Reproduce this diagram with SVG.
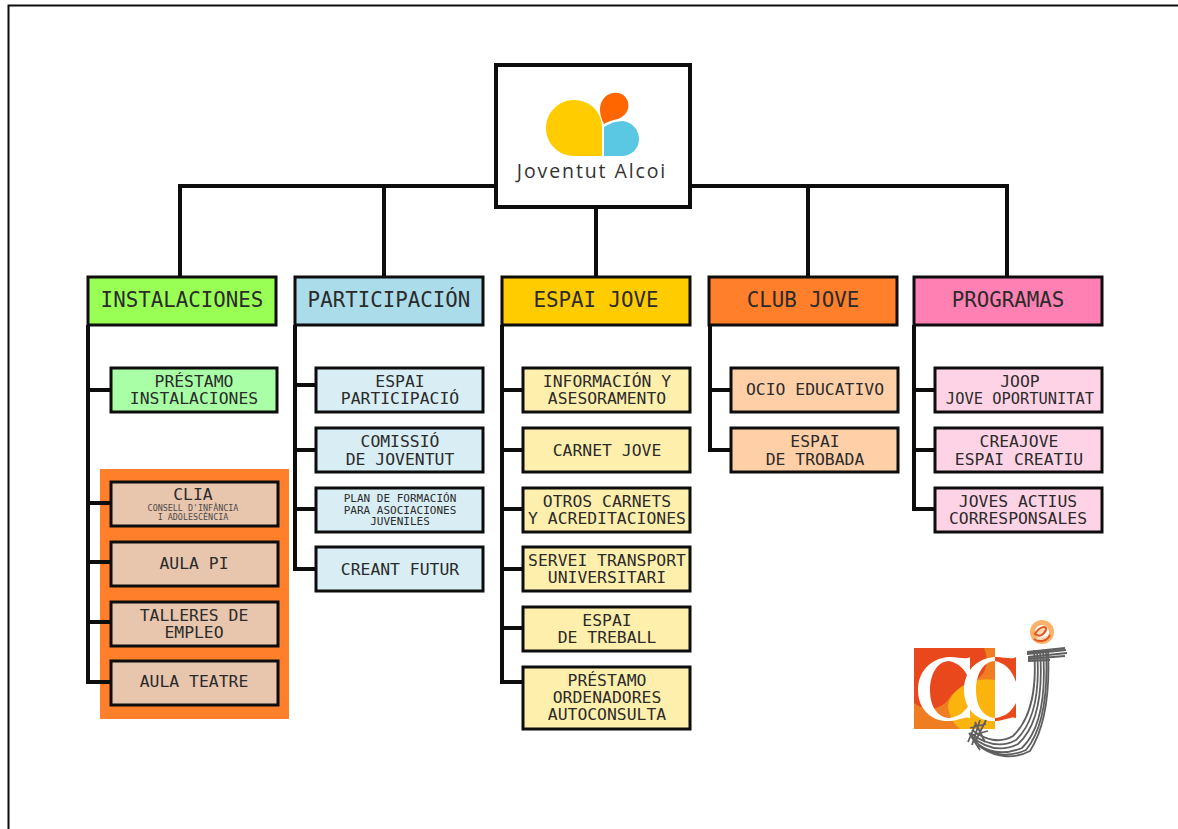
<svg xmlns="http://www.w3.org/2000/svg" width="1178" height="829" viewBox="0 0 1178 829">
<style>
.n{stroke:#0d0d0d;stroke-width:3}
.h{stroke:#0d0d0d;stroke-width:3}
.c{fill:none;stroke:#0d0d0d;stroke-width:4;stroke-linejoin:miter}
text{font-family:"DejaVu Sans Mono","Liberation Mono",monospace;fill:#2b2b2b;text-anchor:middle}
.t{font-size:20.8px}
.s{font-size:16.4px}
.s2{font-size:15.4px}
.xs{font-size:11px}
.xxs{font-size:8.4px;fill:#4a4a4a}
.g{fill:#a9ffa6}.p{fill:#d8edf4}.y{fill:#ffefac}.o{fill:#ffcfa8}.k{fill:#ffd3e6}.b{fill:#e8c5ad}
.st{fill:none;stroke:#5f5f5f;stroke-width:1.8}
</style>
<defs>
<path id="bigC" d="M1016 657V682C1012 670 1005 663 995 661C983 661 976 675 976 690C976 706 983 717 995 718C1005 717 1012 711 1016 703V718C1012 716 1006 720 996 721C976 722 964 708 964 690C964 672 976 658 996 657C1005 657 1012 660 1016 657Z"/>
<clipPath id="inSq"><rect x="914" y="648" width="81" height="81"/></clipPath>
<clipPath id="outSq"><rect x="995" y="640" width="30" height="90"/></clipPath>
</defs>
<rect width="1178" height="829" fill="#fff"/>
<path d="M8.5 829V5.5H1178" fill="none" stroke="#0d0d0d" stroke-width="2"/>
<g id="orange-panel"><rect x="100" y="469" width="189" height="250" fill="#ff7f2a"/></g>
<g id="connectors">
<path class="c" d="M496 186H180V277M384 186V277M596 207V277M690 186H1007V277M808 186V277"/>
<path class="c" d="M88 325V682H111M88 390H111M88 503H111M88 562H111M88 622H111"/>
<path class="c" d="M295 325V569H316M295 385H316M295 450H316M295 509H316"/>
<path class="c" d="M502 325V682H523M502 390H523M502 450H523M502 509H523M502 569H523M502 628H523"/>
<path class="c" d="M710 325V450H731M710 390H731"/>
<path class="c" d="M914 325V509H935M914 390H935M914 450H935"/>
</g>
<g id="root">
<rect x="496" y="65" width="194" height="142" fill="#fff" stroke="#0d0d0d" stroke-width="4"/>
<path d="M602 156V128C602 112 590 100 574 100C558 100 546 113 546 128C546 144 559 156 574 156Z" fill="#ffcc00"/>
<path d="M604 124C598 112 599 103 605 97C613 90 625 92 628 102C630 110 625 116 618 119C612 120 607 122 604 124Z" fill="#ff6600"/>
<path d="M604 156V127C610 123 616 121 623 121C632 122 639 130 639 139C639 149 631 156 622 156Z" fill="#5bc8e3"/>
<text x="592" y="178" style="font-family:'Open Sans','DejaVu Sans',sans-serif;font-size:19.5px;letter-spacing:1.9px;fill:#333">Joventut Alcoi</text>
</g>
<g id="instalaciones"><rect class="h" x="88" y="277" width="188" height="48" fill="#99ff55"/><text class="t" x="182" y="307">INSTALACIONES</text></g>
<g id="participacion"><rect class="h" x="295" y="277" width="188" height="48" fill="#aadcea"/><text class="t" x="389" y="307">PARTICIPACIÓN</text></g>
<g id="espai-jove"><rect class="h" x="502" y="277" width="188" height="48" fill="#ffcc00"/><text class="t" x="596" y="307">ESPAI JOVE</text></g>
<g id="club-jove"><rect class="h" x="709" y="277" width="188" height="48" fill="#ff7f2a"/><text class="t" x="803" y="307">CLUB JOVE</text></g>
<g id="programas"><rect class="h" x="914" y="277" width="188" height="48" fill="#ff80b2"/><text class="t" x="1008" y="307">PROGRAMAS</text></g>

<g id="prestamo-inst"><rect class="n g" x="111" y="368" width="166" height="44"/><text class="s" x="194" y="387">PRÉSTAMO</text><text class="s" x="194" y="404">INSTALACIONES</text></g>
<g id="clia"><rect class="n b" x="111" y="482" width="167" height="44"/><text class="s" x="193" y="500">CLIA</text><text class="xxs" x="193" y="510.5">CONSELL D'INFÀNCIA</text><text class="xxs" x="193" y="520">I ADOLESCÈNCIA</text></g>
<g id="aula-pi"><rect class="n b" x="111" y="542" width="167" height="44"/><text class="s" x="194" y="569">AULA PI</text></g>
<g id="talleres"><rect class="n b" x="111" y="602" width="167" height="44"/><text class="s" x="194" y="621">TALLERES DE</text><text class="s" x="194" y="638">EMPLEO</text></g>
<g id="aula-teatre"><rect class="n b" x="111" y="661" width="167" height="44"/><text class="s" x="194" y="687">AULA TEATRE</text></g>

<g id="espai-part"><rect class="n p" x="316" y="368" width="167" height="44"/><text class="s" x="400" y="387">ESPAI</text><text class="s" x="400" y="404">PARTICIPACIÓ</text></g>
<g id="comissio"><rect class="n p" x="316" y="428" width="167" height="44"/><text class="s" x="400" y="447">COMISSIÓ</text><text class="s" x="400" y="465">DE JOVENTUT</text></g>
<g id="plan"><rect class="n p" x="316" y="488" width="167" height="44"/><text class="xs" x="400" y="502">PLAN DE FORMACIÓN</text><text class="xs" x="400" y="514">PARA ASOCIACIONES</text><text class="xs" x="400" y="525">JUVENILES</text></g>
<g id="creant"><rect class="n p" x="316" y="547" width="167" height="44"/><text class="s" x="400" y="575">CREANT FUTUR</text></g>

<g id="informacion"><rect class="n y" x="523" y="368" width="167" height="44"/><text class="s" x="607" y="387">INFORMACIÓN Y</text><text class="s" x="607" y="404">ASESORAMENTO</text></g>
<g id="carnet"><rect class="n y" x="523" y="428" width="167" height="44"/><text class="s" x="607" y="456">CARNET JOVE</text></g>
<g id="otros"><rect class="n y" x="523" y="488" width="167" height="44"/><text class="s" x="607" y="507">OTROS CARNETS</text><text class="s" x="607" y="524">Y ACREDITACIONES</text></g>
<g id="servei"><rect class="n y" x="523" y="547" width="167" height="44"/><text class="s" x="607" y="566">SERVEI TRANSPORT</text><text class="s" x="607" y="583">UNIVERSITARI</text></g>
<g id="treball"><rect class="n y" x="523" y="607" width="167" height="44"/><text class="s" x="607" y="626">ESPAI</text><text class="s" x="607" y="643">DE TREBALL</text></g>
<g id="ordenadores"><rect class="n y" x="523" y="667" width="167" height="62"/><text class="s" x="607" y="686">PRÉSTAMO</text><text class="s" x="607" y="703">ORDENADORES</text><text class="s" x="607" y="720">AUTOCONSULTA</text></g>

<g id="ocio"><rect class="n o" x="731" y="368" width="167" height="44"/><text class="s" x="815" y="395">OCIO EDUCATIVO</text></g>
<g id="trobada"><rect class="n o" x="731" y="428" width="167" height="44"/><text class="s" x="815" y="447">ESPAI</text><text class="s" x="815" y="465">DE TROBADA</text></g>

<g id="joop"><rect class="n k" x="935" y="368" width="167" height="44"/><text class="s" x="1020" y="387">JOOP</text><text class="s2" x="1020" y="404">JOVE OPORTUNITAT</text></g>
<g id="creajove"><rect class="n k" x="935" y="428" width="167" height="44"/><text class="s" x="1019" y="447">CREAJOVE</text><text class="s" x="1019" y="465">ESPAI CREATIU</text></g>
<g id="joves"><rect class="n k" x="935" y="488" width="167" height="44"/><text class="s" x="1018" y="507">JOVES ACTIUS</text><text class="s" x="1018" y="524">CORRESPONSALES</text></g>

<g id="ccj-logo">
<rect x="914" y="648" width="81" height="81" fill="#e8481c"/>
<path d="M914 703C925 712 940 710 948 700C958 684 975 686 984 672C988 664 987 655 984 648H995V729H914Z" fill="#ef7d22"/>
<path d="M995 680C975 676 950 688 948 706C949 718 955 725 960 729H995Z" fill="#fbb40e"/>
<use href="#bigC" fill="#fff" clip-path="url(#inSq)"/>
<use href="#bigC" fill="#e8481c" clip-path="url(#outSq)"/>
<use href="#bigC" x="-46" fill="#fff"/>
<circle cx="1042" cy="632" r="12" fill="#fbb36b"/>
<circle cx="1042" cy="632" r="7" fill="#fff"/>
<path d="M1035 634C1040 625 1048 626 1046 630C1043 636 1039 637 1035 634ZM1034 639C1040 643 1047 641 1050 635" fill="#f9d9b8" stroke="#e2561e" stroke-width="2"/>
<path class="st" d="M1027 652L1065 648M1027 654L1066 650M1028 657L1067 653M1028 659L1065 656M1028 661L1050 660"/>
<path class="st" d="M1034 650C1037 685 1032 718 1013 736C1000 744 985 740 972 730M1037 650C1040 688 1035 722 1016 740C1000 749 985 744 970 733M1040 650C1043 690 1038 726 1018 744C1000 753 985 748 971 736M1043 650C1046 690 1042 728 1022 748C1002 756 985 752 974 740M1046 650C1048 690 1044 728 1026 750C1008 758 990 755 978 745M1048 650C1050 690 1046 726 1030 751C1015 759 997 758 982 748"/>
<path class="st" d="M975 722L985 742M980 720L972 745M970 728L986 724M972 735L988 731M969 733L980 750M976 723L968 742M986 720L976 740"/>
</g>
</svg>
